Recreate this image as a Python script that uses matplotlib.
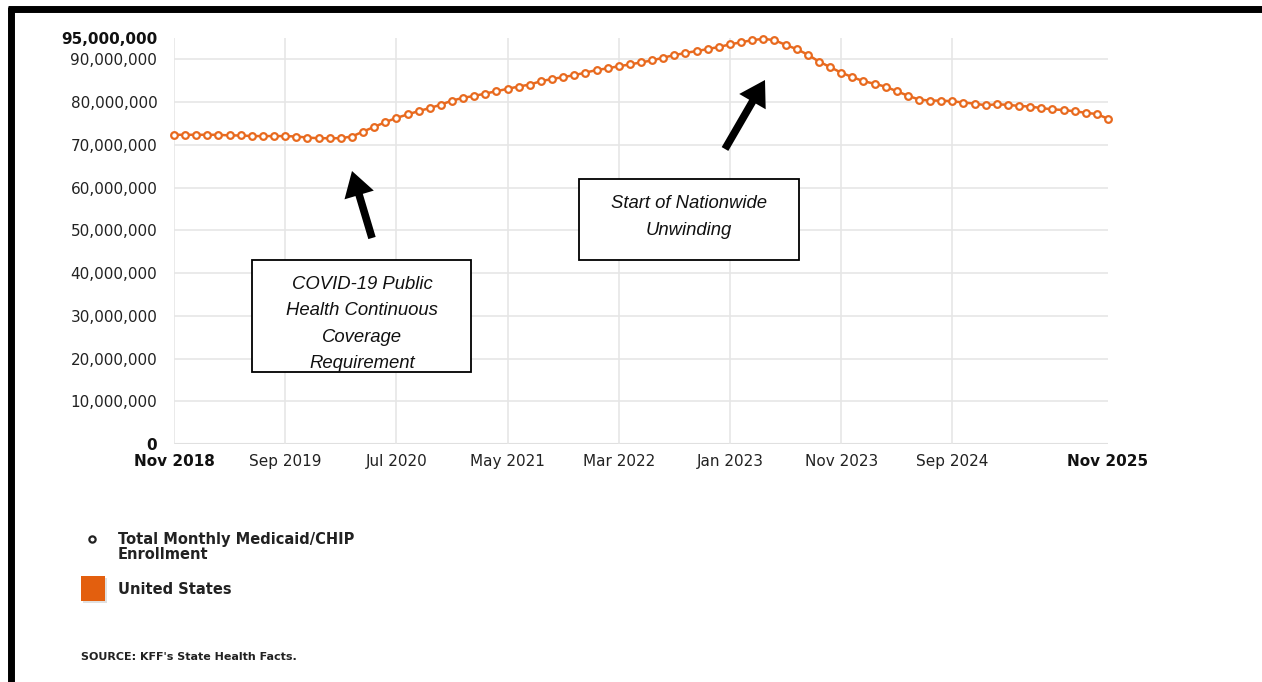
import matplotlib
matplotlib.use("Agg")
import matplotlib.pyplot as plt
import matplotlib.patches as mpatches
from matplotlib.lines import Line2D
from matplotlib.transforms import IdentityTransform
import pandas as pd

# monthly enrollment, Nov 2018 - Nov 2025 (millions)
enrollment_m = [
    72.35, 72.35, 72.35, 72.35, 72.35, 72.2, 72.2, 72.05, 72.05, 72.05,
    72.05, 71.95, 71.7, 71.55, 71.55, 71.55, 71.95, 73.1, 74.2, 75.3,
    76.3, 77.1, 77.9, 78.6, 79.4, 80.35, 81.0, 81.45, 82.0, 82.55,
    83.1, 83.65, 84.1, 84.9, 85.4, 85.85, 86.3, 86.9, 87.5, 87.9,
    88.4, 88.8, 89.3, 89.75, 90.4, 91.0, 91.5, 91.95, 92.4, 92.9,
    93.5, 94.0, 94.5, 94.8, 94.5, 93.4, 92.4, 91.1, 89.5, 88.2,
    86.9, 85.85, 84.9, 84.3, 83.6, 82.55, 81.5, 80.6, 80.35, 80.35,
    80.2, 79.9, 79.65, 79.25, 79.5, 79.35, 79.1, 78.95, 78.6, 78.3,
    78.15, 77.85, 77.5, 77.2, 76.1,
]
months = pd.date_range("2018-11-01", periods=len(enrollment_m), freq="MS")
values = [v * 1e6 for v in enrollment_m]

x_tick_idx = [0, 10, 20, 30, 40, 50, 60, 70, 84]
y_ticks = [0, 10e6, 20e6, 30e6, 40e6, 50e6, 60e6, 70e6, 80e6, 90e6, 95e6]

orange = "#E86A1F"
W, H = 1262, 682


def fx(px):
    return px / W


def fy(py):
    return 1 - py / H


fig = plt.figure(figsize=(W / 100, H / 100), dpi=100)
ax = fig.add_axes([fx(174), fy(444), (1108 - 174) / W, (444 - 38) / H])

xs = list(range(len(values)))
ax.plot(xs, values, color=orange, lw=1.8, marker="o", ms=4.8, mfc="white",
        mec=orange, mew=1.6, zorder=3, clip_on=False)

ax.set_xlim(0, len(values) - 1)
ax.set_ylim(0, 95e6)

# grid
for y in y_ticks[1:-1]:
    ax.axhline(y, color="#e6e6e6", lw=1.2, zorder=0)
ax.axhline(0, color="#e0e0e0", lw=1.5, zorder=0)
for i in x_tick_idx[:-1]:
    ax.axvline(i, color="#e6e6e6", lw=1.2, zorder=0)

for s in ax.spines.values():
    s.set_visible(False)

ax.set_yticks(y_ticks)
ylabels = ax.set_yticklabels([f"{int(v):,}" for v in y_ticks])
for lab, v in zip(ylabels, y_ticks):
    lab.set_color("#222222")
    lab.set_fontsize(11)
    if v in (0, 95e6):
        lab.set_fontweight("bold")
        lab.set_color("#111111")

ax.set_xticks(x_tick_idx)
xlabels = ax.set_xticklabels([months[i].strftime("%b %Y") for i in x_tick_idx])
for lab, i in zip(xlabels, x_tick_idx):
    lab.set_color("#222222")
    lab.set_fontsize(11)
    if i in (0, 84):
        lab.set_fontweight("bold")
        lab.set_color("#111111")

ax.tick_params(axis="y", length=0, pad=12)
ax.tick_params(axis="x", length=0, pad=7)

# annotation boxes
box_font = dict(family="Liberation Sans", style="italic", fontsize=13.3, color="#111111")
fig.patches.append(mpatches.Rectangle((fx(252), fy(372)), (471 - 252) / W, (372 - 260) / H,
                                      transform=fig.transFigure, fill=True, fc="white",
                                      ec="black", lw=1.3, zorder=5))
fig.text(fx(362), fy(324), "COVID-19 Public\nHealth Continuous\nCoverage\nRequirement",
         ha="center", va="center", linespacing=1.72, zorder=6, **box_font)

fig.patches.append(mpatches.Rectangle((fx(579), fy(260)), (799 - 579) / W, (260 - 179) / H,
                                      transform=fig.transFigure, fill=True, fc="white",
                                      ec="black", lw=1.3, zorder=5))
fig.text(fx(689), fy(217), "Start of Nationwide\nUnwinding",
         ha="center", va="center", linespacing=1.72, zorder=6, **box_font)

# arrows (figure pixels, origin bottom-left)
for tail, head in [((372, 238), (352, 171)), ((725, 149), (765, 80))]:
    arr = mpatches.FancyArrowPatch((tail[0], H - tail[1]), (head[0], H - head[1]),
                                   arrowstyle="simple,head_width=22,head_length=18,tail_width=5.5",
                                   mutation_scale=1, color="black", lw=0,
                                   shrinkA=0, shrinkB=0, transform=IdentityTransform(),
                                   zorder=6)
    fig.patches.append(arr)

# legend
fig.lines.append(Line2D([fx(92)], [fy(539)], marker="o", ms=4.5, mfc="white", mec="#222222",
                        mew=1.6, transform=fig.transFigure))
fig.text(fx(118), fy(547), "Total Monthly Medicaid/CHIP\nEnrollment", fontsize=10.5,
         fontweight="bold", color="#222222", va="center", linespacing=0.95)
fig.patches.append(mpatches.Rectangle((fx(83), fy(603)), 24 / W, 25 / H, transform=fig.transFigure,
                                      fc="#e0e0e0", ec="none"))
fig.patches.append(mpatches.Rectangle((fx(81), fy(601)), 24 / W, 25 / H, transform=fig.transFigure,
                                      fc="#E35F0E", ec="none"))
fig.text(fx(118), fy(589), "United States", fontsize=10.5, fontweight="bold",
         color="#222222", va="center")
fig.text(fx(81), fy(657), "SOURCE: KFF's State Health Facts.", fontsize=8,
         fontweight="bold", color="#222222", va="center")

# frame lines
fig.lines.append(Line2D([fx(8), 1], [fy(9), fy(9)], color="black", lw=5,
                        transform=fig.transFigure, solid_capstyle="butt"))
fig.lines.append(Line2D([fx(11), fx(11)], [fy(7), 0], color="black", lw=5,
                        transform=fig.transFigure, solid_capstyle="butt"))

fig.savefig("out.png", dpi=100)
